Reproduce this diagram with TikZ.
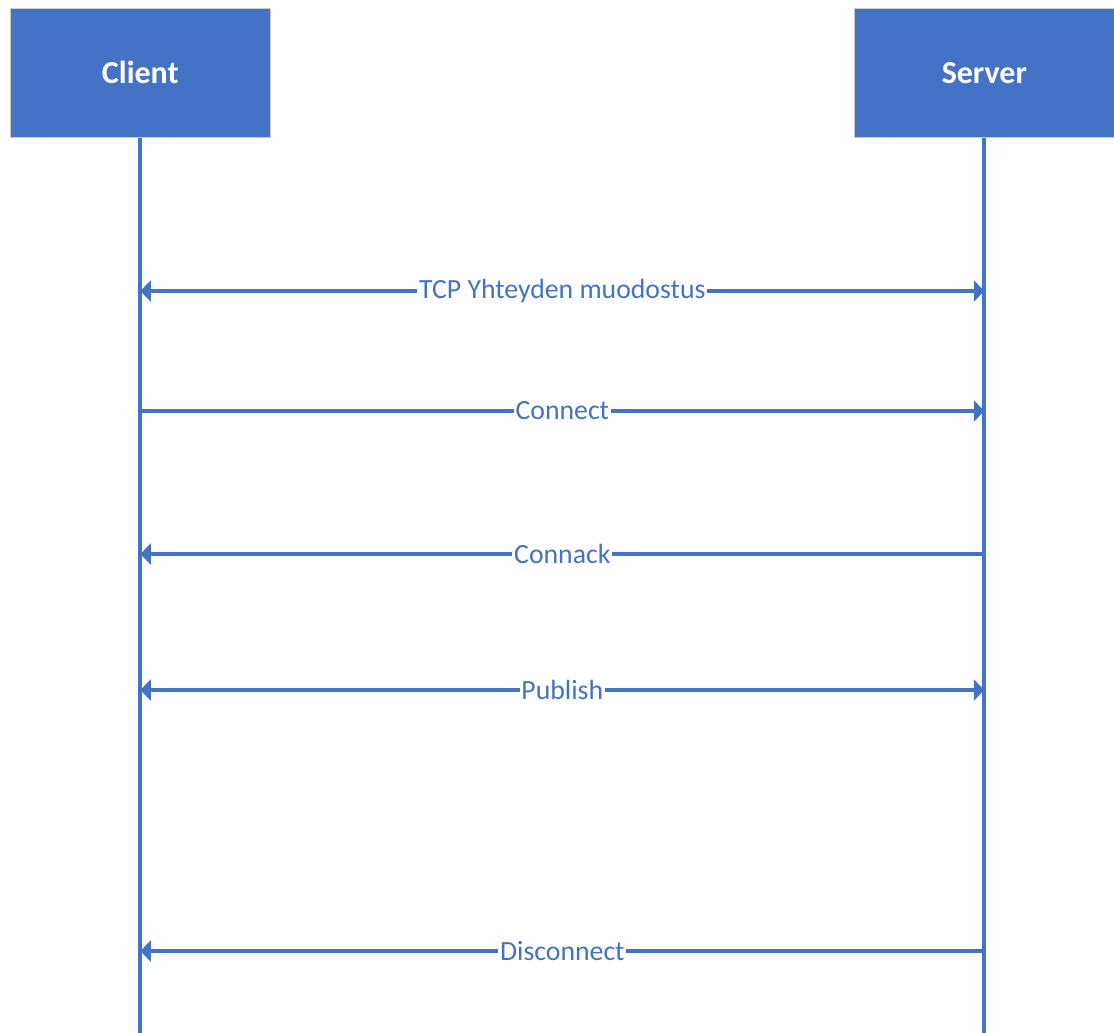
\documentclass[tikz,border=0pt]{standalone}
\usepackage{fontspec}
\setmainfont{Carlito}
\definecolor{OfficeBlue}{RGB}{68,114,196}
\definecolor{BoxEdge}{RGB}{200,200,205}
\usetikzlibrary{positioning,arrows.meta,calc}
\tikzset{
  actor/.style={draw=BoxEdge,fill=OfficeBlue,minimum width=5.2cm,minimum height=2.58cm,inner sep=0pt,text=white,font=\fontsize{18.2}{21}\selectfont\bfseries},
  lifeline/.style={draw=OfficeBlue,line width=2.3pt},
  msg/.style={draw=OfficeBlue,line width=2.3pt,-{Triangle[length=2.1mm,width=4.2mm]}},
  msgboth/.style={msg,{Triangle[length=2.1mm,width=4.2mm]}-{Triangle[length=2.1mm,width=4.2mm]}},
  lbl/.style={fill=white,text=OfficeBlue,inner sep=1pt,font=\fontsize{15.8}{19}\selectfont},
}
\begin{document}
\begin{tikzpicture}[x=0.02cm,y=-0.02cm]
      \useasboundingbox (0,0) rectangle (1114,1032);
      \node[actor,anchor=north west] (client) at (10,8) {Client};
      \node[actor,anchor=north west] (server) at (854,8) {Server};
      \coordinate (cend) at (client.south |- 0,1040);
      \coordinate (send) at (server.south |- 0,1040);
      \draw[lifeline] (client.south) -- (cend);
      \draw[lifeline] (server.south) -- (send);
      % messages
      \coordinate (c1) at (client.south |- 0,291); \coordinate (s1) at (server.south |- 0,291);
      \coordinate (c2) at (client.south |- 0,411); \coordinate (s2) at (server.south |- 0,411);
      \coordinate (c3) at (client.south |- 0,554); \coordinate (s3) at (server.south |- 0,554);
      \coordinate (c4) at (client.south |- 0,690); \coordinate (s4) at (server.south |- 0,690);
      \coordinate (c5) at (client.south |- 0,951); \coordinate (s5) at (server.south |- 0,951);
      \draw[msgboth] (c1) -- node[lbl] {TCP Yhteyden muodostus} (s1);
      \draw[msg] (c2) -- node[lbl] {Connect} (s2);
      \draw[msg] (s3) -- node[lbl] {Connack} (c3);
      \draw[msgboth] (c4) -- node[lbl] {Publish} (s4);
      \draw[msg] (s5) -- node[lbl] {Disconnect} (c5);
    \end{tikzpicture}
\end{document}
